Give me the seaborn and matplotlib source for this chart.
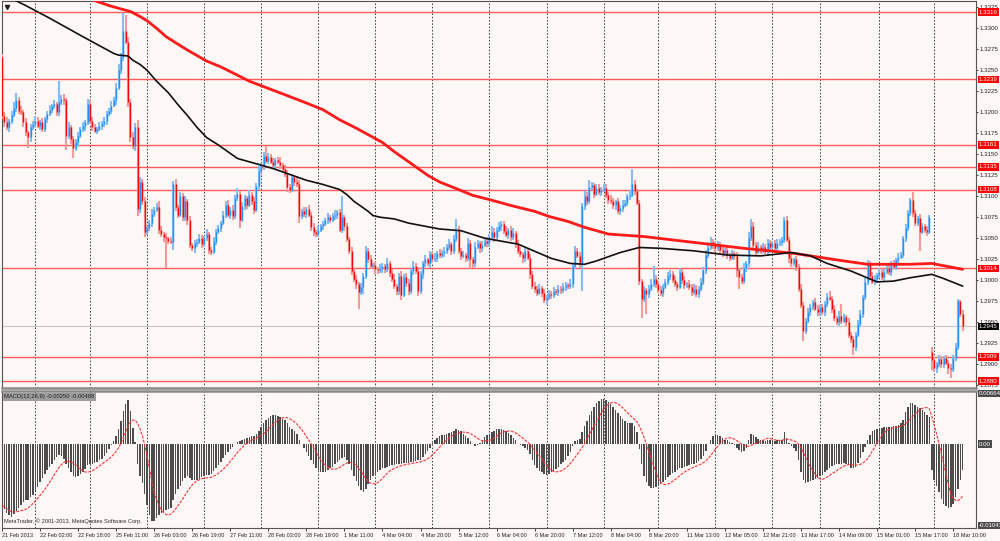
import numpy as np
import pandas as pd
import matplotlib
matplotlib.use("Agg")
import matplotlib.pyplot as plt
import matplotlib.transforms as mtransforms
import seaborn as sns

# EURUSD H1, closes in 1/10000 (21 Feb 2013 10:00 .. 18 Mar 2013)
closes = [
    13196, 13188, 13182, 13190, 13197, 13205, 13214, 13202, 13200, 13188, 13176, 13170, 13182, 13186, 13190,
    13184, 13188, 13180, 13192, 13198, 13203, 13207, 13210, 13200, 13212, 13216, 13214, 13172, 13183, 13168,
    13158, 13165, 13172, 13180, 13184, 13188, 13210, 13190, 13183, 13178, 13180, 13184, 13186, 13189, 13198,
    13202, 13208, 13214, 13229, 13250, 13266, 13297, 13284, 13212, 13170, 13160, 13182, 13085, 13117, 13094,
    13058, 13062, 13068, 13079, 13084, 13087, 13060, 13055, 13051, 13050, 13047, 13046, 13114, 13087, 13078,
    13100, 13075, 13094, 13072, 13042, 13038, 13044, 13046, 13050, 13043, 13050, 13055, 13036, 13034, 13046,
    13058, 13062, 13068, 13078, 13090, 13078, 13084, 13076, 13098, 13103, 13072, 13088, 13098, 13090, 13102,
    13094, 13084, 13112, 13130, 13136, 13148, 13142, 13147, 13141, 13137, 13143, 13141, 13137, 13133, 13126,
    13111, 13108, 13123, 13117, 13115, 13076, 13082, 13079, 13085, 13078, 13063, 13058, 13055, 13060, 13064,
    13067, 13072, 13075, 13072, 13076, 13078, 13081, 13060, 13075, 13064, 13049, 13035, 13011, 13002, 12995,
    12986, 12992, 13005, 13035, 13025, 13017, 13018, 13013, 13012, 13014, 13017, 13013, 13020, 13009, 13002,
    12993, 12987, 13005, 12983, 13004, 12997, 12987, 13011, 13017, 13011, 12987, 13007, 13020, 13025, 13020,
    13031, 13025, 13027, 13033, 13030, 13033, 13035, 13039, 13043, 13035, 13049, 13060, 13035, 13029, 13030,
    13026, 13044, 13025, 13020, 13040, 13044, 13038, 13042, 13047, 13044, 13052, 13058, 13051, 13060, 13064,
    13067, 13059, 13054, 13060, 13051, 13056, 13043, 13035, 13031, 13026, 13035, 13027, 13008, 12993, 12990,
    12985, 12991, 12985, 12977, 12980, 12984, 12983, 12987, 12986, 12990, 12988, 12992, 12994, 12993, 12996,
    13017, 13035, 13029, 13020, 13088, 13100, 13094, 13111, 13113, 13103, 13110, 13105, 13108, 13110, 13102,
    13096, 13094, 13089, 13094, 13082, 13086, 13090, 13092, 13100, 13102, 13115, 13106, 13092, 12999, 12978,
    12988, 12984, 12990, 12996, 13002, 12996, 12988, 12985, 12992, 12998, 13005, 13008, 13000, 12996, 12992,
    13010, 13000, 12994, 12996, 12992, 12986, 12990, 12984, 12990, 12998, 13012, 13030, 13040, 13046, 13042,
    13038, 13042, 13036, 13032, 13036, 13030, 13027, 13032, 13029, 13012, 13004, 12999, 13015, 13020, 13050,
    13065, 13042, 13034, 13040, 13036, 13040, 13034, 13044, 13040, 13044, 13038, 13044, 13046, 13048, 13072,
    13048, 13026, 13020, 13025, 13016, 12990, 12970, 12940, 12952, 12962, 12968, 12974, 12966, 12962, 12968,
    12962, 12972, 12980, 12978, 12966, 12955, 12950, 12958, 12952, 12956, 12950, 12935, 12930, 12920, 12935,
    12948, 12960, 12980, 12998, 13020, 13005, 12998, 13002, 13006, 13010, 13004, 13010, 13014, 13010, 13020,
    13016, 13024, 13028, 13030, 13050, 13062, 13080, 13095, 13080, 13068, 13074, 13058, 13064, 13060, 13058,
    13075, 12905, 12895, 12900, 12906, 12900, 12907, 12902, 12896, 12894, 12908, 12920, 12975, 12960, 12945,
]
first_open = 13266
gap_bar = 391
gap_open = 12915

# wick lengths above / below the body, in pips
hi_ext = [
    3, 4, 6, 2, 5, 7, 9, 4, 6, 3, 5, 2, 4, 3, 6,
    4, 3, 5, 2, 4, 6, 3, 5, 2, 25, 4, 6, 3, 5, 2,
    4, 3, 5, 2, 4, 3, 6, 5, 4, 3, 2, 4, 3, 5, 4,
    3, 5, 4, 6, 8, 5, 21, 19, 6, 4, 7, 5, 9, 6, 4,
    5, 3, 4, 6, 3, 5, 7, 4, 3, 5, 2, 4, 4, 6, 3,
    5, 4, 6, 3, 5, 2, 4, 3, 5, 4, 3, 6, 2, 4, 5,
    3, 4, 2, 5, 4, 6, 3, 5, 4, 7, 3, 5, 4, 2, 6,
    3, 5, 4, 6, 3, 5, 12, 4, 3, 5, 2, 4, 6, 3, 4,
    5, 3, 4, 2, 6, 4, 3, 5, 2, 4, 3, 5, 2, 4, 3,
    4, 2, 5, 3, 4, 6, 3, 4, 25, 3, 4, 2, 5, 3, 4,
    3, 5, 4, 6, 3, 5, 2, 4, 3, 5, 4, 2, 6, 3, 4,
    5, 3, 4, 6, 3, 5, 4, 2, 6, 3, 5, 4, 3, 5, 2,
    4, 3, 5, 2, 4, 3, 5, 4, 6, 3, 5, 13, 4, 3, 5,
    2, 6, 4, 3, 5, 4, 3, 5, 2, 4, 3, 6, 4, 3, 5,
    4, 3, 5, 2, 4, 6, 3, 5, 4, 3, 5, 2, 4, 3, 5,
    3, 4, 2, 5, 3, 4, 3, 5, 2, 4, 3, 5, 4, 3, 5,
    4, 6, 3, 5, 4, 6, 5, 8, 4, 3, 5, 4, 3, 5, 4,
    3, 5, 4, 2, 4, 3, 5, 4, 3, 5, 18, 4, 3, 4, 3,
    5, 3, 4, 6, 15, 4, 3, 5, 4, 3, 5, 4, 3, 5, 2,
    4, 3, 5, 2, 4, 3, 5, 4, 3, 5, 4, 6, 5, 6, 3,
    4, 5, 3, 4, 2, 5, 3, 4, 3, 5, 2, 4, 5, 3, 8,
    8, 4, 3, 5, 2, 4, 3, 5, 4, 3, 4, 5, 3, 4, 3,
    4, 3, 5, 2, 4, 3, 5, 4, 3, 5, 4, 3, 5, 4, 3,
    4, 3, 5, 7, 3, 4, 2, 5, 14, 4, 3, 5, 3, 4, 3,
    5, 4, 3, 5, 4, 3, 5, 4, 3, 5, 4, 3, 5, 4, 3,
    4, 3, 5, 4, 3, 5, 4, 3, 10, 4, 3, 5, 4, 3, 4,
    3, 5, 4, 3, 5, 4, 3, 4, 3, 4, 3, 5, 3, 2, 4,
]
lo_ext = [
    4, 5, 3, 6, 4, 3, 5, 4, 3, 6, 4, 12, 5, 3, 4,
    3, 5, 4, 3, 5, 2, 4, 3, 5, 4, 3, 5, 17, 4, 6,
    12, 4, 5, 3, 4, 6, 3, 4, 5, 3, 4, 2, 5, 3, 4,
    3, 4, 2, 5, 3, 4, 5, 3, 6, 5, 4, 6, 8, 5, 4,
    6, 4, 3, 5, 4, 3, 5, 4, 6, 36, 4, 3, 10, 5, 4,
    3, 5, 4, 6, 4, 3, 5, 4, 3, 5, 4, 3, 5, 4, 3,
    4, 3, 5, 2, 4, 3, 5, 4, 3, 4, 10, 3, 4, 5, 3,
    4, 5, 3, 4, 2, 5, 3, 4, 3, 5, 4, 3, 5, 4, 3,
    6, 4, 3, 5, 4, 8, 3, 4, 5, 3, 4, 5, 3, 4, 3,
    4, 3, 5, 4, 3, 4, 5, 3, 4, 5, 3, 4, 5, 4, 6,
    20, 4, 8, 3, 5, 4, 3, 5, 4, 3, 5, 4, 3, 5, 4,
    3, 5, 4, 6, 3, 5, 4, 3, 5, 4, 6, 3, 5, 4, 3,
    5, 4, 3, 5, 4, 3, 5, 4, 3, 5, 4, 3, 4, 5, 3,
    4, 3, 12, 5, 4, 3, 5, 4, 3, 5, 4, 3, 5, 4, 3,
    5, 4, 3, 5, 4, 3, 5, 4, 3, 5, 4, 3, 6, 4, 5,
    4, 3, 5, 4, 6, 3, 5, 4, 3, 5, 4, 3, 5, 4, 3,
    5, 4, 3, 5, 33, 4, 5, 3, 4, 5, 3, 4, 5, 3, 4,
    5, 3, 4, 5, 3, 4, 5, 3, 4, 5, 3, 4, 3, 5, 23,
    4, 24, 5, 3, 4, 5, 3, 4, 5, 3, 4, 5, 3, 4, 5,
    3, 4, 5, 3, 4, 5, 3, 4, 5, 3, 4, 5, 3, 4, 5,
    4, 3, 5, 4, 3, 5, 4, 3, 5, 8, 15, 4, 3, 5, 4,
    3, 5, 4, 3, 5, 4, 3, 5, 4, 3, 5, 4, 3, 5, 4,
    3, 5, 4, 3, 5, 4, 3, 12, 4, 3, 5, 4, 3, 5, 4,
    3, 5, 4, 3, 5, 4, 3, 5, 4, 3, 5, 4, 5, 9, 4,
    3, 4, 5, 3, 4, 5, 3, 4, 5, 3, 4, 5, 3, 4, 5,
    3, 4, 5, 3, 4, 5, 3, 4, 5, 3, 4, 23, 3, 4, 5,
    3, 12, 4, 5, 3, 4, 5, 3, 8, 10, 3, 4, 3, 4, 5,
]

# MACD(12,26,9) main line, in 1e-5
macd = [
    -760, -800, -850, -880, -900, -870, -830, -790, -750, -720, -700, -690, -660, -630, -580,
    -530, -470, -420, -370, -320, -280, -240, -200, -160, -130, -150, -180, -250, -300, -350,
    -390, -410, -390, -370, -340, -310, -260, -250, -240, -230, -220, -200, -180, -150, -110,
    -60, -10, 40, 100, 190, 290, 420, 500, 550, 420, 200, 30, -250, -400, -480,
    -620, -760, -880, -960, -950, -920, -880, -860, -840, -820, -810, -790, -700, -620, -560,
    -520, -460, -420, -400, -420, -440, -450, -440, -430, -410, -390, -380, -380, -370, -330,
    -300, -260, -220, -170, -130, -90, -60, -30, 10, 30, 40, 60, 70, 80, 90,
    100, 100, 130, 170, 210, 260, 300, 330, 350, 360, 360, 350, 340, 320, 300,
    260, 220, 190, 160, 130, 60, 10, -50, -100, -150, -200, -250, -290, -320, -340,
    -350, -340, -320, -300, -280, -250, -220, -200, -170, -160, -190, -250, -320, -390, -460,
    -520, -570, -590, -560, -500, -450, -400, -370, -340, -320, -300, -290, -280, -270, -260,
    -260, -250, -240, -240, -230, -230, -230, -220, -215, -210, -200, -190, -160, -120, -80,
    -40, 20, 60, 80, 100, 110, 120, 130, 140, 150, 170, 190, 180, 160, 130,
    100, 80, 40, 10, -20, -10, 20, 60, 90, 110, 130, 150, 170, 185, 190,
    190, 180, 160, 140, 110, 80, 50, 10, -10, -20, -40, -70, -120, -200, -260,
    -300, -330, -350, -370, -380, -370, -350, -330, -310, -280, -250, -220, -190, -140, -90,
    -20, 40, 60, 70, 150, 230, 290, 360, 420, 470, 510, 540, 560, 565, 550,
    530, 500, 470, 430, 390, 350, 320, 290, 270, 260, 260, 230, 150, -60, -250,
    -390, -470, -520, -540, -540, -530, -520, -500, -470, -440, -410, -380, -360, -340, -320,
    -300, -290, -280, -270, -260, -250, -240, -230, -210, -180, -140, -80, 10, 60, 100,
    130, 120, 100, 80, 60, 50, 30, 20, -10, -40, -70, -90, -80, -40, 60,
    130, 120, 90, 70, 60, 50, 40, 50, 50, 50, 40, 50, 50, 60, 150,
    80, 20, -20, -40, -80, -200, -340, -450, -480, -470, -460, -440, -430, -420, -400,
    -380, -350, -320, -290, -270, -260, -250, -240, -240, -230, -240, -260, -290, -300, -280,
    -230, -170, -100, -30, 60, 120, 160, 180, 190, 200, 200, 210, 210, 220, 220,
    230, 230, 240, 260, 300, 400, 470, 510, 515, 490, 470, 450, 430, 400, 370,
    340, -320, -440, -520, -600, -680, -740, -770, -790, -780, -740, -660, -560, -440, -320,
]
macd_top = 0.00664
macd_bottom = -0.01043

# moving averages (bar index, price in 1/10000)
ma_black_bars = [0, 10, 20, 34, 47, 49, 53, 55, 58, 61, 65, 70, 74, 78, 82, 86, 91, 95, 99, 104, 114,
                 121, 128, 135, 142, 145, 148, 151, 154, 156, 159, 165, 171, 184, 193, 203, 217, 231,
                 239, 245, 250, 253, 260, 268, 277, 291, 305, 319, 332, 340, 347, 357, 368, 375, 382,
                 391, 396, 404]
ma_black_vals = [13341, 13327, 13312, 13290, 13270, 13268, 13267, 13262, 13257, 13250, 13237, 13223,
                 13209, 13196, 13182, 13170, 13161, 13153, 13145, 13141, 13133, 13126, 13119, 13114,
                 13108, 13102, 13094, 13088, 13082, 13077, 13075, 13073, 13068, 13061, 13059, 13050,
                 13043, 13026, 13020, 13019, 13023, 13026, 13033, 13039, 13038, 13035, 13030, 13029,
                 13033, 13029, 13020, 13011, 12998, 12999, 13003, 13007, 13002, 12993]
ma_red_bars = [0, 45, 50, 54, 58, 61, 65, 69, 74, 78, 86, 92, 97, 104, 117, 128, 135, 142, 149, 160,
               165, 171, 179, 184, 192, 198, 205, 214, 224, 230, 238, 245, 255, 270, 291, 312, 333,
               354, 364, 382, 391, 404]
ma_red_vals = [13371, 13327, 13323, 13320, 13314, 13309, 13300, 13290, 13281, 13274, 13261, 13254,
               13247, 13237, 13223, 13211, 13203, 13191, 13181, 13164, 13153, 13141, 13125, 13117,
               13108, 13101, 13096, 13089, 13082, 13076, 13070, 13063, 13055, 13052, 13045, 13038,
               13032, 13023, 13019, 13019, 13020, 13013]

levels = [1.3319, 1.3239, 1.3161, 1.3135, 1.3108, 1.3014, 1.2909, 1.2880]
bid = 1.2945
price_ticks = [1.2875, 1.2900, 1.2925, 1.2950, 1.2975, 1.3000, 1.3025, 1.3050, 1.3075, 1.3100,
               1.3125, 1.3150, 1.3175, 1.3200, 1.3225, 1.3250, 1.3275, 1.3300, 1.3325]
grid_bars = [14, 37, 61, 85, 109, 133, 157, 181, 205, 229, 253, 276, 300, 324, 344, 369, 392]
time_labels = ["21 Feb 2013", "22 Feb 02:00", "22 Feb 18:00", "25 Feb 11:00", "26 Feb 03:00",
               "26 Feb 19:00", "27 Feb 11:00", "28 Feb 03:00", "28 Feb 19:00", "1 Mar 11:00",
               "4 Mar 04:00", "4 Mar 20:00", "5 Mar 12:00", "6 Mar 04:00", "6 Mar 20:00",
               "7 Mar 12:00", "8 Mar 04:00", "8 Mar 20:00", "11 Mar 13:00", "12 Mar 05:00",
               "12 Mar 21:00", "13 Mar 17:00", "14 Mar 09:00", "15 Mar 01:00", "15 Mar 17:00",
               "18 Mar 10:00"]
label_every = 16

sns.set_theme(style="white")
plt.rcParams["font.family"] = ["Liberation Sans", "DejaVu Sans"]
bg = "#fdf7f6"

# build OHLC frame
n = len(closes)
bars = np.arange(n)
close = np.array(closes, dtype=float) / 1e4
opn = np.array([first_open] + closes[:-1], dtype=float) / 1e4
opn[gap_bar] = gap_open / 1e4
df = pd.DataFrame({"bar": bars, "open": opn, "close": close})
df["high"] = np.maximum(df["open"], df["close"]) + np.array(hi_ext) / 1e4
df["low"] = np.minimum(df["open"], df["close"]) - np.array(lo_ext) / 1e4
df["up"] = df["close"] >= df["open"]

macd_s = pd.Series(macd, dtype=float) / 1e5
signal = macd_s.rolling(9, min_periods=1).mean()

fig = plt.figure(figsize=(10, 5.41), dpi=100, facecolor=bg)
ax = fig.add_axes([0.0015, 0.2828, 0.9745, 0.7153], facecolor=bg)
axm = fig.add_axes([0.0015, 0.0240, 0.9745, 0.2532], facecolor=bg)

# grid (vertical only)
for g in grid_bars:
    for a in (ax, axm):
        a.axvline(g, color="#3c3c3c", lw=0.7, ls=(0, (1.6, 1.8)), zorder=1)

# support / resistance lines and bid line
ax.axhline(bid, color="#c6c6c6", lw=0.8, zorder=1)
for lv in levels:
    ax.axhline(lv, color="#ff5c5c", lw=1.0, zorder=2)

# candles
for up, wick_c, body_c in [(True, "#86bdf2", "#1e8fff"), (False, "#f39a9a", "#ff0000")]:
    d = df[df["up"] == up]
    ax.vlines(d["bar"], d["low"], d["high"], color=wick_c, lw=1.5, zorder=3)
    ax.vlines(d["bar"], d["open"], d["close"], color=body_c, lw=1.0, zorder=4)

# moving averages
sns.lineplot(x=ma_red_bars, y=np.array(ma_red_vals) / 1e4, ax=ax, color="#ff1a1a", lw=2.0, zorder=5)
sns.lineplot(x=ma_black_bars, y=np.array(ma_black_vals) / 1e4, ax=ax, color="#111111", lw=1.2, zorder=5)

# MACD
axm.bar(bars, macd_s, width=0.62, color="#4c4c4c", lw=0, zorder=3)
sns.lineplot(x=bars, y=signal, ax=axm, color="#ff3030", lw=0.8, linestyle=(0, (2.5, 1.2)), zorder=4)

ax.set_xlim(-0.21, 409.6)
axm.set_xlim(-0.21, 409.6)
ax.set_ylim(1.28717, 1.33324)
axm.set_ylim(macd_bottom, macd_top)
for a in (ax, axm):
    a.set_xlabel("")
    a.set_ylabel("")

# price scale on the right
ax.yaxis.tick_right()
ax.set_yticks(price_ticks)
ax.set_yticklabels([f"{v:.4f}" for v in price_ticks], fontsize=4.4)
ax.tick_params(axis="y", length=1.5, width=0.6, pad=1.0, colors="#222222", right=True, left=False)
ax.tick_params(axis="x", length=0, labelbottom=False, bottom=False)

axm.set_yticks([])
axm.set_xticks(bars[::label_every])
axm.set_xticklabels(time_labels, fontsize=4.0, ha="left")
axm.tick_params(axis="x", length=2.5, width=0.6, pad=1.2, colors="#222222", bottom=True)

for a in (ax, axm):
    for s in a.spines.values():
        s.set_color("#555555")
        s.set_linewidth(0.8)
ax.spines["bottom"].set_color("#8a8a8a")
ax.spines["bottom"].set_linewidth(1.8)
axm.spines["top"].set_color("#8a8a8a")
axm.spines["top"].set_linewidth(1.8)

# price boxes
tr = mtransforms.blended_transform_factory(ax.transAxes, ax.transData)
for lv in levels:
    ax.text(1.003, lv, f"{lv:.4f}", transform=tr, fontsize=4.4, color="white", va="center", ha="left",
            bbox=dict(boxstyle="square,pad=0.22", fc="#ff0000", ec="none"), zorder=10, clip_on=False)
ax.text(1.003, bid, f"{bid:.4f}", transform=tr, fontsize=4.4, color="white", va="center", ha="left",
        bbox=dict(boxstyle="square,pad=0.22", fc="#000000", ec="none"), zorder=10, clip_on=False)

trm = mtransforms.blended_transform_factory(axm.transAxes, axm.transData)
for val, txt, va in [(macd_top, "0.00664", "top"), (0.0, "0.00", "center"), (macd_bottom, "-0.01043", "bottom")]:
    axm.text(1.003, val, txt, transform=trm, fontsize=4.4, color="white", va=va, ha="left",
             bbox=dict(boxstyle="square,pad=0.22", fc="#4b4b4b", ec="none"), zorder=10, clip_on=False)

axm.text(0.003, 0.975, "MACD(12,26,9) -0.00250 -0.00488", transform=axm.transAxes, fontsize=4.2,
         va="top", ha="left", color="#1e1e1e",
         bbox=dict(boxstyle="square,pad=0.2", fc="#9d9d9d", ec="none"), zorder=10)
axm.text(0.003, 0.03, "MetaTrader, \u00a9 2001-2013, MetaQuotes Software Corp.", transform=axm.transAxes,
         fontsize=4.1, va="bottom", ha="left", color="#2a2a2a", zorder=10)
ax.plot([0.006], [0.985], marker="v", ms=3, color="#222222", transform=ax.transAxes, clip_on=False)

fig.savefig("out.png", dpi=100, facecolor=bg)
